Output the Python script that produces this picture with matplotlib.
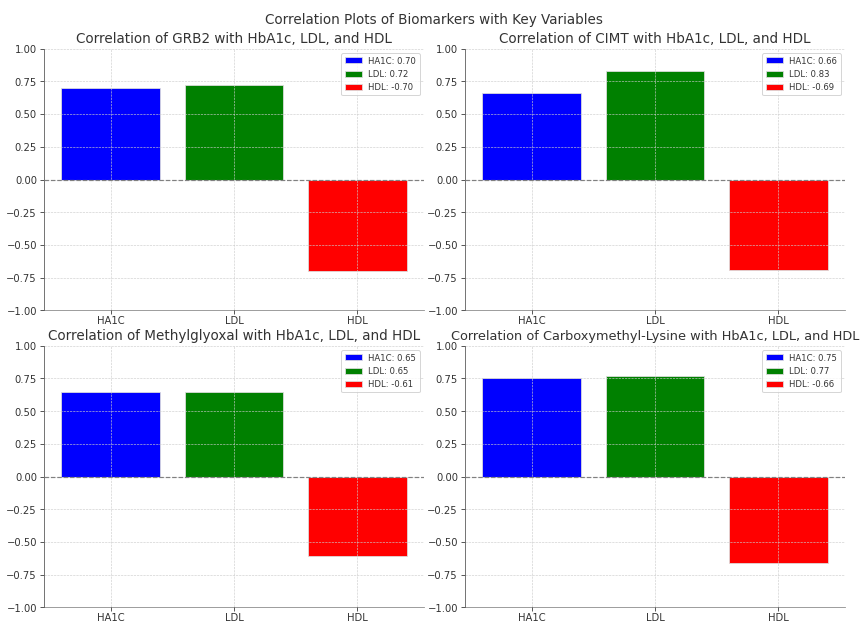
import numpy as np
import matplotlib
matplotlib.use('Agg')
import matplotlib.pyplot as plt

# Data
variables = ['HA1C', 'LDL', 'HDL']
colors = ['blue', 'green', 'red']
biomarkers = ['GRB2', 'CIMT', 'Methylglyoxal', 'Carboxymethyl-Lysine']
grb2 = [0.70, 0.72, -0.70]
cimt = [0.66, 0.83, -0.69]
methylglyoxal = [0.65, 0.65, -0.61]
cml = [0.75, 0.77, -0.66]
values = [grb2, cimt, methylglyoxal, cml]

fig, axes = plt.subplots(2, 2, figsize=(12, 8.655), dpi=72.25)
fig.suptitle('Correlation Plots of Biomarkers with Key Variables', fontsize=13.5,
             color='#333333', y=0.98)

for ax, name, vals in zip(axes.flat, biomarkers, values):
    x = np.arange(len(variables))
    for i, (var, v, c) in enumerate(zip(variables, vals, colors)):
        ax.bar(x[i], v, color=c, edgecolor='#dddddd', linewidth=0.8,
               label=f'{var}: {v:.2f}', zorder=2)
    ax.axhline(0, color='gray', linestyle='--', linewidth=1.2, zorder=3)
    ax.set_xticks(x)
    ax.set_xticklabels(variables)
    ax.set_ylim(-1, 1)
    # the longest title would run off the right edge at full size
    tsize = 13.5 if len(name) < 15 else 12.8
    ax.set_title(f'Correlation of {name} with HbA1c, LDL, and HDL', fontsize=tsize, color='#333333')
    ax.grid(True, linestyle='--', linewidth=0.6, color='#cccccc', zorder=4)
    ax.set_axisbelow(False)
    ax.spines['top'].set_visible(False)
    ax.spines['right'].set_visible(False)
    ax.spines['left'].set_color('#555555')
    ax.spines['bottom'].set_color('#888888')
    ax.tick_params(colors='#333333', labelsize=10)
    ax.tick_params(axis='x', pad=2)
    ax.legend(loc='upper right', fontsize=8.5, labelcolor='#333333')

plt.subplots_adjust(left=0.0507, right=0.9746, top=0.9216, bottom=0.028,
                    wspace=0.108, hspace=0.135)
plt.savefig('out.png')
